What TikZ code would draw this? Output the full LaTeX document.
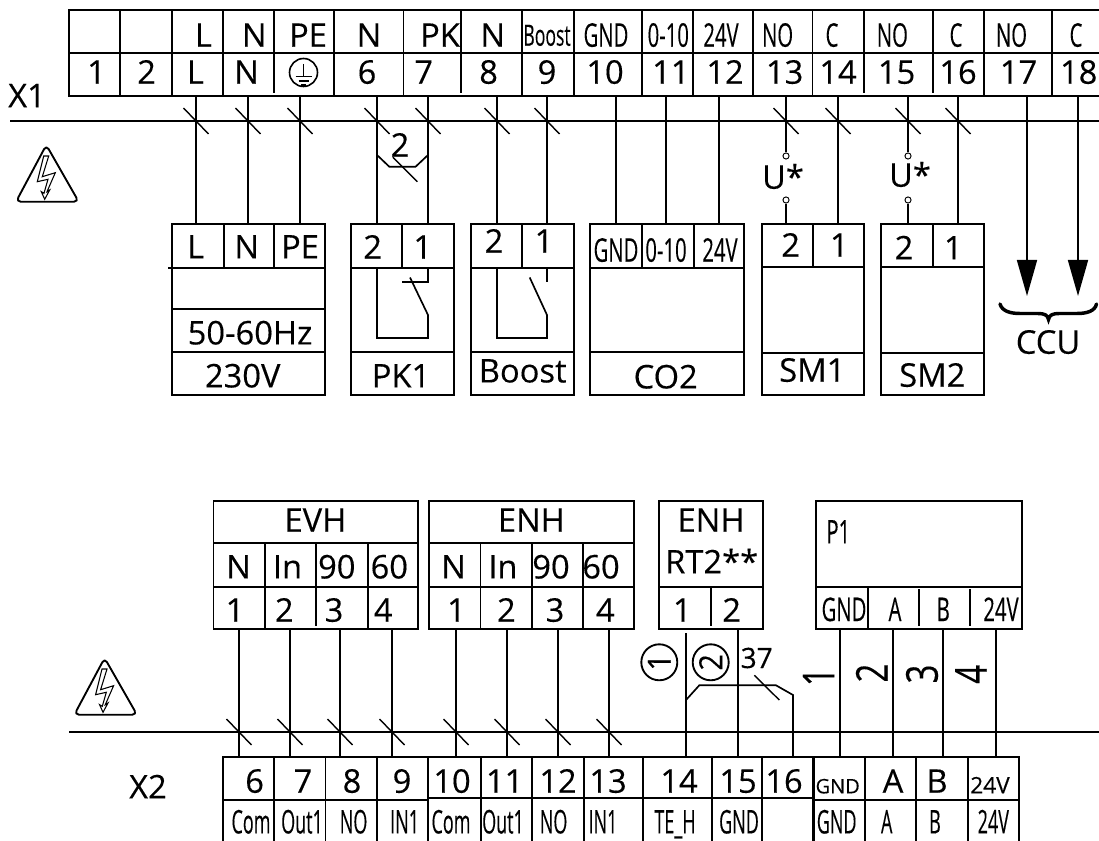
\documentclass[tikz,border=0pt]{standalone}
\usepackage{graphicx}
\usepackage{fontspec}
\setmainfont{Open Sans}[FakeBold=0.25]
\usetikzlibrary{arrows.meta}
\newcounter{lb}
\newcommand\cnd[1]{\scalebox{.62}[1]{#1}}
\newcommand\lab[3]{\stepcounter{lb}\node[lbl] (lb\arabic{lb}) at (#1,#2) {#3};}
\newcommand\clab[3]{\stepcounter{lb}\node[lbl] (lb\arabic{lb}) at (#1,#2) {\cnd{#3}};}
\newcommand\nlab[3]{\stepcounter{lb}\node[lbl] (lb\arabic{lb}) at (#1,#2) {\scalebox{.55}[1]{#3}};}
\newcommand\rlab[3]{\stepcounter{lb}\node[lbl,rotate=90,text height=24pt] (lb\arabic{lb}) at (#1,#2) {\fontsize{33pt}{36pt}\selectfont\scalebox{.75}[1]{#3}};}
% grid helper: vertical dividers
\newcommand\vl[3]{\draw[ln] (#1,#2) -- (#1,#3);}
\newcommand\warn[2]{%
\begin{scope}[shift={(#1,#2)}]
\draw[line width=1.4pt,line join=round,rounded corners=3.5pt] (38.3,5) -- (70.7,61.7) -- (8,61.7) -- cycle;
\draw[line width=.8pt,line join=miter] (35.7,16) -- (29.3,41.7) -- (40,39.3) -- (36,53.3) -- (33.3,51.7) -- (36.7,59.3) -- (41.7,50) -- (39,51.7) -- (47.3,32.7) -- (34.3,36.7) -- (40.7,16) -- cycle;
\end{scope}}
\tikzset{
 ln/.style={line width=1.25pt,line cap=butt},
 slash/.style={line width=1.05pt},
 lbl/.style={inner sep=0pt,font=\fontsize{24.5pt}{28pt}\selectfont,text height=17.6pt,text depth=0pt},
 ring/.style={draw,circle,line width=1.4pt,inner sep=0pt,minimum size=27pt,fill=none},
 term/.style={draw,circle,line width=.7pt,inner sep=0pt,minimum size=4.6pt,fill=white},
 arr/.style={ln,-{Triangle[length=27pt,width=15pt]}}
}
\begin{document}
\begin{tikzpicture}[x=.75pt,y=-.75pt]
\useasboundingbox (0,0) rectangle (1099,841);
\fill[white] (0,0) rectangle (1099,841);

%% ---- X1 strip
\draw[ln] (1099,10) -- (68.7,10) -- (68.7,96) -- (1099,96);
\draw[ln] (68.7,53) -- (1099,53);
\foreach \x in {120.3,171.9,223,334,403.4,522,573.8,641.7,692.9,753,812.6,983.8,1052} {\vl{\x}{10}{96}}
\foreach \x in {274,461,864,932.7} {\vl{\x}{10}{93.5}}
\foreach \x/\t in {203.4/L,254.3/N,308/PE,369/N,440/PK,492.8/N} {\lab{\x}{35}{\t}}
\stepcounter{lb}\node[lbl] (lb\arabic{lb}) at (547,34) {\fontsize{22pt}{24pt}\selectfont\scalebox{.6}[1]{Boost}};
\foreach \x/\t in {606/GND,668.3/0-10,721/24V,777.6/NO,832/C,892.4/NO,956/C,1011.5/NO,1076/C} {\clab{\x}{35}{\t}}
\foreach \x/\t in {96.5/1,146.6/2,195.4/L,246.6/N,367/6,423.7/7,488.6/8,547/9,605/10,670.8/11,725/12,784.6/13,838/14,896.6/15,958/16,1018.5/17,1078.7/18} {\lab{\x}{72}{\t}}
\node[draw,circle,line width=1.2pt,inner sep=0pt,minimum size=21pt] (pe) at (303.5,72.5) {};
\draw[line width=1.15pt] (303.5,64) -- (303.5,76.7) (295.5,76.7) -- (311.5,76.7) (298.5,81) -- (308.5,81) (301,85) -- (306,85);
\lab{27}{95.5}{X1}
\warn{8}{140}

%% ---- X1 bus
\coordinate (bus1l) at (10,121); \coordinate (bus1r) at (1099,121);
\draw[ln] (bus1l) -- (bus1r);
\foreach \n/\x in {a/196,b/248,c/300,d/377,e/428,f/497,g/547,h/616,i/666,j/719,l/838,n/958} {
 \coordinate (t\n) at (\x,96); \coordinate (b\n) at (\x,224);
 \draw[ln] (t\n) -- (b\n);}
\foreach \x in {196,248,300,377,428,497,547,786,838,908,958} {
 \draw[slash] (\x-12.5,108) -- (\x+12.5,134);}

%% ---- wire link "2"
\coordinate (k1) at (377,155); \coordinate (k2) at (389.3,166.7); \coordinate (k3) at (415.6,166.7); \coordinate (k4) at (428,155);
\draw[ln] (k1) -- (k2) -- (k3) -- (k4);
\draw[slash] (392.8,157.3) -- (417.4,181.7);
\lab{400}{145}{2}

%% ---- U* terminals
\foreach \n/\x in {m/786,o/908} {
 \coordinate (t\n) at (\x,96); \coordinate (b\n) at (\x,224);
 \node[term] (u\n) at (\x,156) {}; \node[term] (v\n) at (\x,200) {};
 \draw[ln] (t\n) -- (u\n); \draw[ln] (v\n) -- (b\n);}
\lab{783}{177}{U*}
\lab{910}{175}{U*}

%% ---- CCU
\coordinate (tp) at (1027,96); \coordinate (ap) at (1027,296);
\coordinate (tq) at (1078,96); \coordinate (aq) at (1078,296);
\draw[arr] (tp) -- (ap);
\draw[arr] (tq) -- (aq);
\draw[line width=2.6pt,line cap=round] (1000,304) .. controls (1002,311) and (1010,313.5) .. (1020,313.5) -- (1038,313.5) .. controls (1044,313.5) and (1048,315) .. (1048.5,319.5) .. controls (1049,315) and (1053,313.5) .. (1059,313.5) -- (1077,313.5) .. controls (1087,313.5) and (1095,311) .. (1096.5,304);
\lab{1048}{342}{CCU}

%% ---- 230V
\draw[ln] (172,224) rectangle (325,395);
\draw[ln] (168,268) -- (325,268) (172,309) -- (325,309) (172,352) -- (325,352);
\vl{224}{224}{268} \vl{274}{224}{268}
\lab{195.7}{246.7}{L} \lab{246.7}{246.7}{N} \lab{300}{246.7}{PE}
\lab{250}{332.7}{50-60Hz} \lab{242.7}{375.7}{230V}

%% ---- PK1
\draw[ln] (351,224) rectangle (454,395);
\draw[ln] (351,268) -- (454,268) (351,352) -- (454,352);
\vl{402}{224}{268}
\draw[ln] (377,268) -- (377,338) -- (428,338) -- (428,315) -- (410,277.5);
\draw[ln] (428,268) -- (428,281.7) -- (402,281.7);
\lab{372.7}{247}{2} \lab{422.7}{247}{1} \lab{401}{375.7}{PK1}

%% ---- Boost
\draw[ln] (470.7,224) rectangle (573.7,395);
\draw[ln] (470.7,268) -- (573.7,268) (470.7,352) -- (573.7,352);
\vl{522}{224}{268}
\draw[ln] (497,268) -- (497,338) -- (547,338) -- (547,315) -- (529.7,277.5);
\draw[ln] (547,268) -- (547,281.7);
\lab{494}{241}{2} \lab{544}{241}{1} \lab{522.7}{370.7}{Boost}

%% ---- CO2
\draw[ln] (590,224) rectangle (744,395);
\draw[ln] (590,268) -- (744,268) (590,352) -- (744,352);
\vl{642}{224}{268} \vl{693.7}{224}{268}
\clab{616}{250}{GND} \clab{666}{250}{0-10} \clab{720}{250}{24V}
\lab{665.7}{376.7}{CO2}

%% ---- SM1 / SM2
\draw[ln] (761.7,224) rectangle (863.7,395);
\draw[ln] (761.7,267) -- (863.7,267) (761.7,353) -- (863.7,353);
\vl{813}{224}{267}
\lab{790.7}{245}{2} \lab{839.3}{245}{1} \lab{812.3}{370}{SM1}
\draw[ln] (881,224) rectangle (984,395);
\draw[ln] (881,267) -- (984,267) (881,353) -- (984,353);
\vl{932.7}{224}{267}
\lab{904}{247.7}{2} \lab{953.3}{247.7}{1} \lab{932.3}{375}{SM2}

%% ---- EVH
\draw[ln] (213.6,501) rectangle (418,629.3);
\draw[ln] (213.6,543.3) -- (418,543.3) (213.6,586.7) -- (418,586.7);
\vl{265}{543.3}{629.3} \vl{316}{543.3}{626} \vl{367.9}{543.3}{629.3}
\lab{315.4}{520}{EVH}
\foreach \x/\t in {238.6/N,287.5/In,336.8/90,389.3/60} {\lab{\x}{566.7}{\t}}
\foreach \x/\t in {235/1,284.3/2,334/3,383.2/4} {\lab{\x}{610}{\t}}

%% ---- ENH
\draw[ln] (429,501) rectangle (634.3,629.3);
\draw[ln] (429,543.3) -- (634.3,543.3) (429,586.7) -- (634.3,586.7);
\vl{480.4}{543.3}{629.3} \vl{531.8}{543.3}{629.3} \vl{583.2}{543.3}{629.3}
\lab{531.4}{520}{ENH}
\foreach \x/\t in {453.6/N,502.9/In,551/90,601/60} {\lab{\x}{566.7}{\t}}
\foreach \x/\t in {456.4/1,506.4/2,555/3,605.4/4} {\lab{\x}{610}{\t}}

%% ---- ENH RT2
\draw[ln] (659.3,501) rectangle (762.7,629.3);
\draw[ln] (659.3,586.7) -- (762.7,586.7);
\vl{710.7}{586.7}{626}
\lab{711}{520}{ENH} \lab{711.7}{561.7}{RT2**}
\lab{682.3}{610}{1} \lab{731.7}{610}{2}

%% ---- P1
\draw[ln] (816.3,501) rectangle (1022,629.3);
\draw[ln] (816.3,586.7) -- (1022,586.7);
\vl{867.7}{586.7}{629.3} \vl{919}{589}{626} \vl{970.3}{589}{626}
\clab{838.3}{531.7}{P1}
\foreach \x/\t in {844/GND,895/A,943.3/B,1001/24V} {\clab{\x}{609.3}{\t}}

%% ---- X2 bus and wires
\coordinate (bus2l) at (69,732); \coordinate (bus2r) at (1099,732);
\draw[ln] (bus2l) -- (bus2r);
\foreach \n/\x in {a/239,b/290,c/340,d/392,e/456,f/507,g/558,h/609} {
 \coordinate (p\n) at (\x,629.3); \coordinate (q\n) at (\x,757);
 \draw[ln] (p\n) -- (q\n);
 \draw[slash] (\x-12.5,719) -- (\x+12.5,745);}
\foreach \n/\x in {i/738,j/840,k/893,l/943,m/996} {
 \coordinate (p\n) at (\x,629.3); \coordinate (q\n) at (\x,757);
 \draw[ln] (p\n) -- (q\n);}
\coordinate (pz) at (686,633); \coordinate (qz) at (686,757);
\draw[ln] (pz) -- (qz);
\coordinate (r0) at (686,700); \coordinate (r1) at (699.3,685.3); \coordinate (r2) at (776,685.3); \coordinate (r3) at (793,695); \coordinate (r4) at (793,757);
\draw[ln] (r0) -- (r1) -- (r2) -- (r3) -- (r4);
\draw[slash] (754.3,675.3) -- (779.3,700);
\stepcounter{lb}\node[lbl,text height=15pt] (lb\arabic{lb}) at (756.7,658) {\fontsize{21pt}{24pt}\selectfont 37};
\node[ring,rotate=90] (c1) at (659.3,662.3) {\fontsize{24pt}{24pt}\selectfont\scalebox{.9}[1]{1}};
\node[ring,rotate=90] (c2) at (710.7,662.3) {\fontsize{24pt}{24pt}\selectfont\scalebox{.9}[1]{2}};
\rlab{818.3}{676.7}{1} \rlab{871.7}{673}{2} \rlab{921.7}{674}{3} \rlab{970.7}{674.3}{4}
\warn{66.3}{653}

%% ---- X2 strip
\draw[ln] (222.9,841) -- (222.9,757) -- (1019,757) -- (1019,841);
\draw[ln] (222.9,800) -- (427.9,800) (427.9,798) -- (813.3,798) (813.3,800) -- (1019,800);
\foreach \x in {274,325.4,376.8,427.9,480.7,531.8,584,643.3,711.7,762.3,865,916,967.7} {\vl{\x}{757}{841}}
\draw[line width=1.8pt] (813.3,757) -- (813.3,841);
\foreach \x/\t in {254.6/6,302.9/7,352/8,402/9,452/10,504.6/11,558/12,608/13,679/14,738/15,784/16,893/A,937/B} {\lab{\x}{781}{\t}}
\stepcounter{lb}\node[lbl,text height=11pt] (lb\arabic{lb}) at (837.7,786) {\fontsize{15pt}{18pt}\selectfont GND};
\stepcounter{lb}\node[lbl,text height=12.5pt] (lb\arabic{lb}) at (990,785) {\fontsize{17pt}{20pt}\selectfont 24V};
\foreach \x/\t in {251/Com,302/Out1,353.6/NO,404.6/IN1,451/Com,503/Out1,553.6/NO,603/IN1,675/TE\_H,739/GND,836.7/GND,886.7/A,935/B,993.3/24V} {\nlab{\x}{821.7}{\t}}
\lab{148}{786.7}{X2}
\end{tikzpicture}
\end{document}
